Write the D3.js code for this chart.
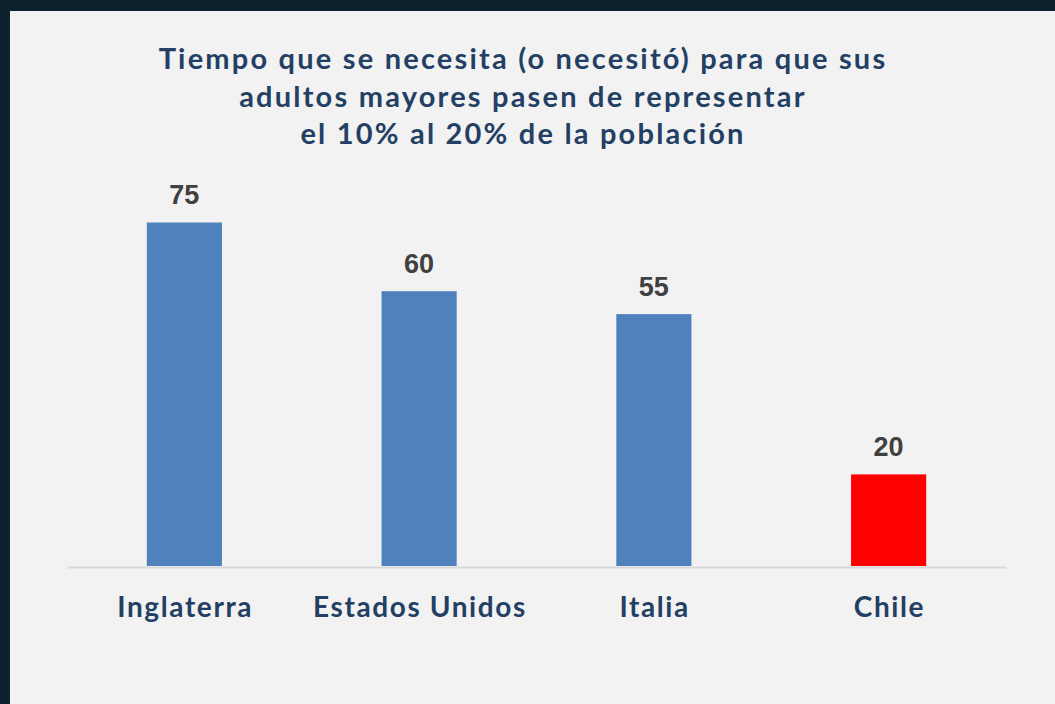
<!DOCTYPE html>
<html>
<head>
<meta charset="utf-8">
<script src="https://cdn.jsdelivr.net/npm/d3@7"></script>
<style>
  html, body { margin: 0; padding: 0; background: #0c232d; }
  #chart { width: 1055px; height: 704px; }
</style>
</head>
<body>
<div id="chart"></div>
<script>
// Données du graphique
const paises = ["Inglaterra", "Estados Unidos", "Italia", "Chile"];
const anios = [75, 60, 55, 20];
const colores = ["#4f81bd", "#4f81bd", "#4f81bd", "#ff0000"];
const titulo = [
    "Tiempo que se necesita (o necesitó) para que sus",
    "adultos mayores pasen de representar",
    "el 10% al 20% de la población"
];

const width = 1055, height = 704;
const svg = d3.select("#chart").append("svg")
    .attr("width", width)
    .attr("height", height);

// Fond clair du panneau
svg.append("rect")
    .attr("x", 10).attr("y", 11)
    .attr("width", width - 10).attr("height", height - 11)
    .attr("fill", "#f2f2f2");

// Échelles
const x = d3.scaleBand()
    .domain(paises)
    .range([67, 1006])
    .paddingInner(0.68)
    .paddingOuter(0.34);

const y = d3.scaleLinear()
    .domain([0, 80])
    .range([566, 199.6]);

// Titre
svg.append("text")
    .attr("x", 523)
    .attr("y", 69)
    .attr("text-anchor", "middle")
    .attr("fill", "#243f64")
    .style("font-family", "Lato, 'Noto Sans', sans-serif")
    .style("font-weight", "bold")
    .style("font-size", "29px")
    .style("letter-spacing", "2.2px")
    .selectAll("tspan")
    .data(titulo)
    .enter().append("tspan")
    .attr("x", 523)
    .attr("dy", (d, i) => i === 0 ? 0 : 37.5)
    .text(d => d);

// Barres
svg.selectAll("rect.bar")
    .data(anios)
    .enter().append("rect")
    .attr("class", "bar")
    .attr("x", (d, i) => x(paises[i]))
    .attr("y", d => y(d))
    .attr("width", x.bandwidth())
    .attr("height", d => y(0) - y(d))
    .attr("fill", (d, i) => colores[i]);

// Axe horizontal
const axis = svg.append("g")
    .attr("transform", `translate(0,${y(0)})`)
    .call(d3.axisBottom(x).tickSize(0).tickPadding(0));
axis.select(".domain")
    .attr("stroke", "#d9d9d9")
    .attr("stroke-width", 2)
    .attr("transform", "translate(0,1)");
axis.selectAll(".tick text")
    .attr("dy", 0)
    .attr("y", 51)
    .attr("x", 0.8)
    .attr("fill", "#243f64")
    .style("font-family", "Lato, 'Noto Sans', sans-serif")
    .style("font-weight", "bold")
    .style("font-size", "28px")
    .style("letter-spacing", "1.6px");

// Étiquettes de valeurs
svg.selectAll("text.valor")
    .data(anios)
    .enter().append("text")
    .attr("class", "valor")
    .attr("x", (d, i) => x(paises[i]) + x.bandwidth() / 2)
    .attr("y", d => y(d) - 18.5)
    .attr("text-anchor", "middle")
    .attr("fill", "#404040")
    .style("font-family", "'Liberation Sans', Arial, sans-serif")
    .style("font-weight", "bold")
    .style("font-size", "27px")
    .text(d => d);
</script>
</body>
</html>
